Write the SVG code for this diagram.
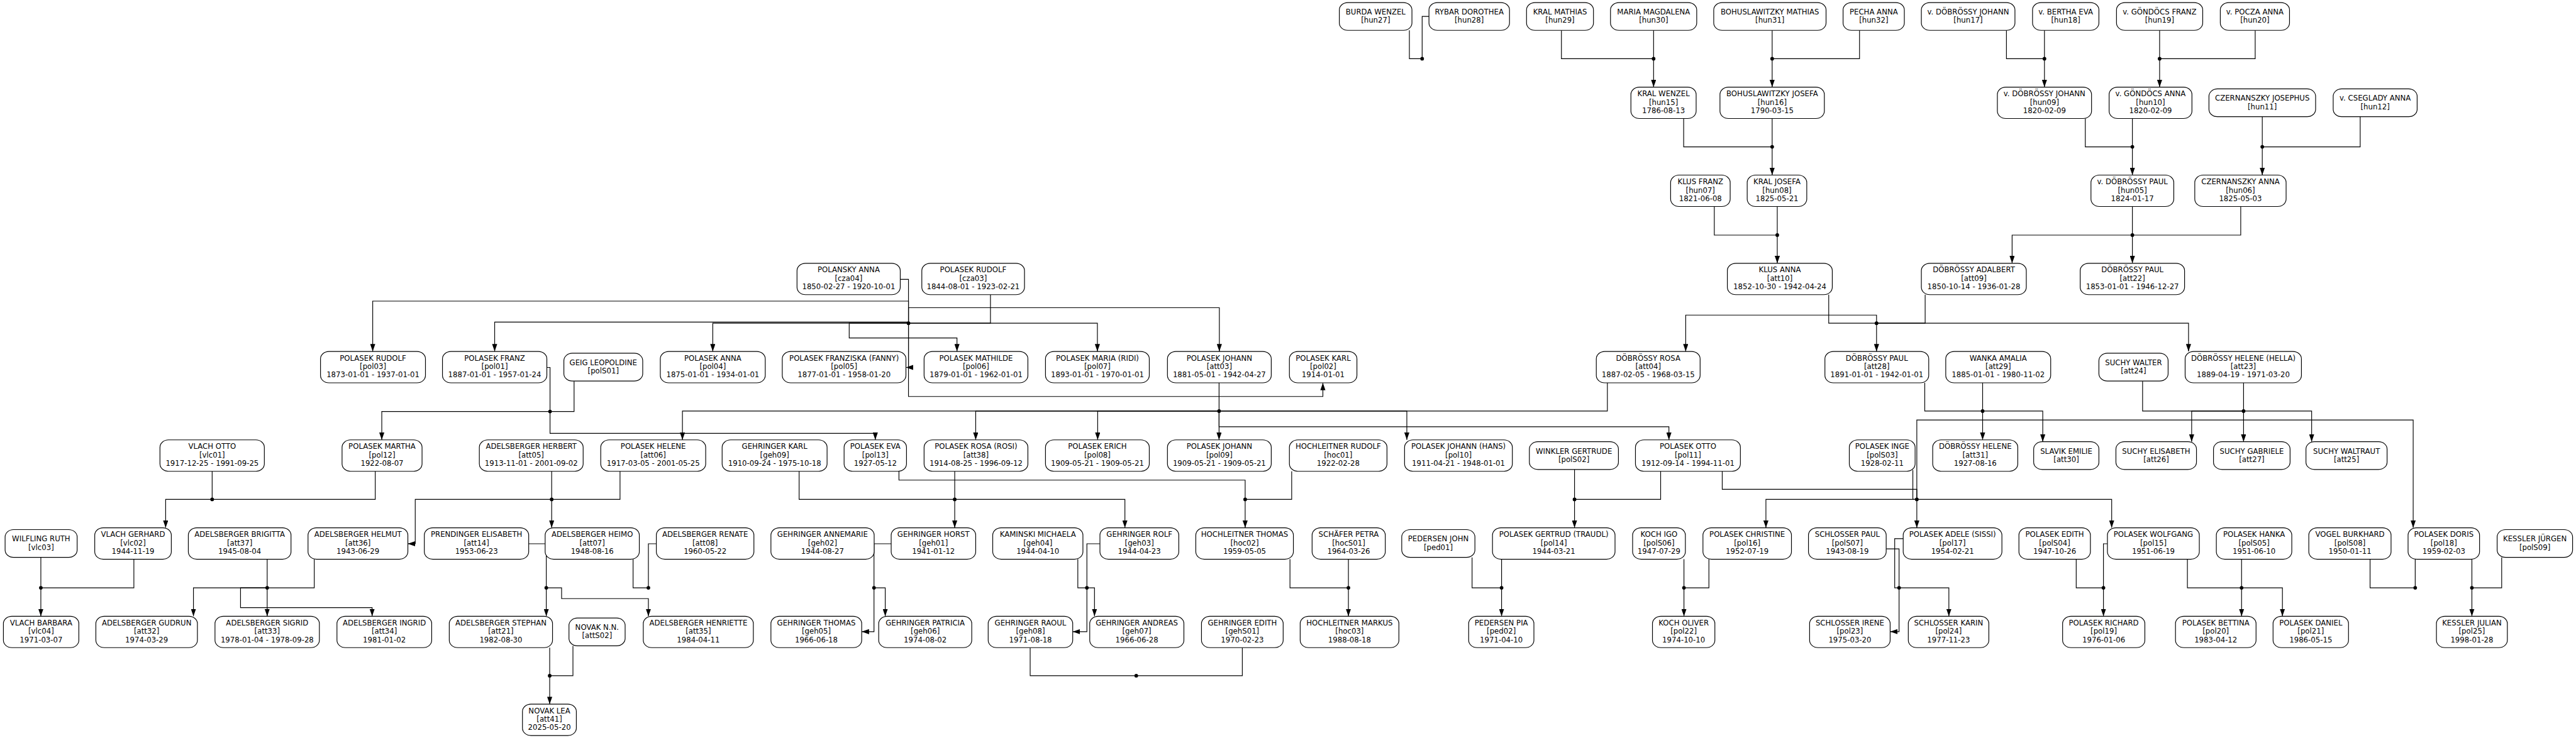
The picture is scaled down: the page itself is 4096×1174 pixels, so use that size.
<svg xmlns="http://www.w3.org/2000/svg" width="4096" height="1174" viewBox="0 0 4096 1174">
<defs>
<style>
.n rect{fill:#fff;stroke:#000;stroke-width:1.3}
.n text{font-family:"DejaVu Sans",sans-serif;font-size:13px;text-anchor:middle;fill:#000}
.c path{fill:none;stroke:#000;stroke-width:1.3}
.a path{fill:none;stroke:#000;stroke-width:1.3;marker-end:url(#ah)}
.d circle{fill:#000}
</style>
<marker id="ah" markerWidth="13" markerHeight="9" refX="13" refY="4.5" orient="auto" markerUnits="userSpaceOnUse"><path d="M0,0 L13,4.5 L0,9 z" fill="#000"/></marker>
</defs>
<rect width="4096" height="1174" fill="#fff"/>
<g transform="scale(0.902)">
<g id="connectors">
<g class="c">
<path d="M2484.5,53.5V103.6H2507M2519,29H2507V103.6"/>
<path d="M2752.5,53.5V103.6H2915M2915,53.5V103.6"/>
<path d="M3124,53.5V103.6M3278,53.5V103.6H3124"/>
<path d="M2968,209V259H3124M3124,209V259"/>
<path d="M3022,364.2V414.6H3133M3133,364.2V414.6"/>
<path d="M3537,53.5V103.6H3604M3604,53.5V103.6"/>
<path d="M3807,53.5V103.6M3975.5,53.5V103.6H3807"/>
<path d="M3676,209V259H3759M3759,209V259"/>
<path d="M3988,205.8V259M4160.6,205.8V259H3988"/>
<path d="M3759,364.2V414.6M3950,364.2V414.6H3759"/>
<path d="M3223.7,519.7V570H3308M3393.7,519.7V570H3308"/>
<path d="M1587,492.7H1601.5V570M1746,519.7V570H1601.5"/>
<path d="M964,648H969.6V725.7M1012,672V725.7H969.6"/>
<path d="M2149,675.2V725M2833.5,675.2V725H2149"/>
<path d="M3393,675.2V725H3495M3495,675.2V725"/>
<path d="M3777,672V725H3955M3955,675.2V725"/>
<path d="M374,831.2V880.7M661.5,831.2V880.7H374"/>
<path d="M972.5,831.2V880.7M1093,831.2V880.7H972.5"/>
<path d="M1408.7,831.2V880.7H1683M1683,831.2V880.7"/>
<path d="M1584.7,831.2V846.7H2195V880.7M2277,831.2V880.7H2195"/>
<path d="M2775.6,828V880.7M2927.4,831.2V880.7H2775.6"/>
<path d="M3036,831.2V863H3379V880.7M3372,829V880.7H3379"/>
<path d="M72,983V1036.7M236,986.2V1036.7H72"/>
<path d="M471,986.2V1036.7M554,986.2V1036.7H471"/>
<path d="M932,959H963V1036.7"/>
<path d="M1116,986.2V1036.7H1143M1157,959H1143V1036.7"/>
<path d="M1571,959H1540.7V1036.7"/>
<path d="M1939,959H1916V1036.7M1900,986.2V1036.7H1916"/>
<path d="M1816,1142.2V1191.7H2003M2190,1142.2V1191.7H2003"/>
<path d="M2274,986.2V1036.7H2377M2377,986.2V1036.7"/>
<path d="M2595,983V1036.7H2647M2647,986.2V1036.7"/>
<path d="M2968.5,986.2V1036.7M3012.5,986.2V1036.7H2968.5"/>
<path d="M3325,968H3347.7V1036.7M3355,950H3340V1036.7H3347.7"/>
<path d="M3715,959H3708V1036.7M3660,986.2V1036.7H3708"/>
<path d="M3856,986.2V1036.7H3951.5M3951.5,986.2V1036.7"/>
<path d="M4178,986.2V1036.7H4257.6M4257.6,986.2V1036.7"/>
<path d="M4357.5,986.2V1036.7M4410,983V1036.7H4357.5"/>
<path d="M969,1142.2V1191.7M1010,1139V1191.7H969"/>
</g>
<g class="a">
<path d="M2915,103.6V153.6"/>
<path d="M3124,103.6V153.6"/>
<path d="M3124,259V308.8"/>
<path d="M3133,414.6V464.3"/>
<path d="M3604,103.6V153.6"/>
<path d="M3807,103.6V153.6"/>
<path d="M3759,259V308.8"/>
<path d="M3988,259V308.8"/>
<path d="M3759,414.6V464.3"/>
<path d="M3759,414.6H3547V464.3"/>
<path d="M3308,570V619.8"/>
<path d="M3308,570V555.7H2971.6V619.8"/>
<path d="M3308,570H3858V619.8"/>
<path d="M1601.5,570V531H657V619.8"/>
<path d="M1601.5,570V542.7H2149.5V619.8"/>
<path d="M1601.5,568H872V619.8"/>
<path d="M1601.5,570H1256.5V619.8"/>
<path d="M1601.5,570H1934.5V619.8"/>
<path d="M1601.5,570H1497V596H1687V619.8"/>
<path d="M1601.5,570V648H1597"/>
<path d="M1601.5,570V699.3H2332V675.2"/>
<path d="M969.6,725.7H673V775.8"/>
<path d="M969.6,725.7V764.3H1543V775.8"/>
<path d="M2149,725V775.8"/>
<path d="M2149,725H1203V775.8"/>
<path d="M2149,725H1720V775.8"/>
<path d="M2149,725H1935V775.8"/>
<path d="M2149,725H2480V775.8"/>
<path d="M2149,725V752.7H2942V775.8"/>
<path d="M3495,725V775.8"/>
<path d="M3495,725H3601V779"/>
<path d="M3955,725V779"/>
<path d="M3955,725H3863.5V779"/>
<path d="M3955,725H4075V779"/>
<path d="M374,880.7H292V930.8"/>
<path d="M972.5,880.7V930.8"/>
<path d="M972.5,880.7H732V959H719"/>
<path d="M1683,880.7V930.8"/>
<path d="M1683,880.7H1983V930.8"/>
<path d="M2195,880.7V930.8"/>
<path d="M2775.6,880.7V930.8"/>
<path d="M3379,880.7H3113V930.8"/>
<path d="M3379,880.7V930.8"/>
<path d="M3379,880.7H3722.5V930.8"/>
<path d="M3379,880.7V740.7H4254V930.8"/>
<path d="M72,1036.7V1086.8"/>
<path d="M471,1036.7V1086.8"/>
<path d="M471,1036.7H341V1086.8"/>
<path d="M471,1036.7H424V1071.7H656V1086.8"/>
<path d="M963,1036.7V1086.8"/>
<path d="M963,1036.7H990V1055.7H1143V1086.8"/>
<path d="M1540.7,1036.7V1114H1519"/>
<path d="M1540.7,1036.7H1560.5V1086.8"/>
<path d="M1916,1036.7V1114H1891"/>
<path d="M1916,1036.7H1929.4V1086.8"/>
<path d="M2377,1036.7V1086.8"/>
<path d="M2647,1036.7V1086.8"/>
<path d="M2968.5,1036.7V1086.8"/>
<path d="M3347.7,1036.7V1114H3332"/>
<path d="M3347.7,1036.7H3435.5V1086.8"/>
<path d="M3708,1036.7V1086.8"/>
<path d="M3951.5,1036.7V1086.8"/>
<path d="M3951.5,1036.7H4023.5V1086.8"/>
<path d="M4357.5,1036.7V1086.8"/>
<path d="M969,1191.7V1241.8"/>
</g>
<g class="d">
<circle cx="2507" cy="103.6" r="3.2"/><circle cx="2915" cy="103.6" r="3.2"/><circle cx="3124" cy="103.6" r="3.2"/>
<circle cx="3124" cy="259" r="3.2"/><circle cx="3133" cy="414.6" r="3.2"/><circle cx="3604" cy="103.6" r="3.2"/>
<circle cx="3807" cy="103.6" r="3.2"/><circle cx="3759" cy="259" r="3.2"/><circle cx="3988" cy="259" r="3.2"/>
<circle cx="3759" cy="414.6" r="3.2"/><circle cx="3308" cy="570" r="3.2"/><circle cx="1601.5" cy="570" r="3.2"/>
<circle cx="969.6" cy="725.7" r="3.2"/><circle cx="2149" cy="725" r="3.2"/><circle cx="3495" cy="725" r="3.2"/>
<circle cx="3955" cy="725" r="3.2"/><circle cx="374" cy="880.7" r="3.2"/><circle cx="972.5" cy="880.7" r="3.2"/>
<circle cx="1683" cy="880.7" r="3.2"/><circle cx="2195" cy="880.7" r="3.2"/><circle cx="2775.6" cy="880.7" r="3.2"/>
<circle cx="3379" cy="880.7" r="3.2"/><circle cx="72" cy="1036.7" r="3.2"/><circle cx="471" cy="1036.7" r="3.2"/>
<circle cx="963" cy="1036.7" r="3.2"/><circle cx="1143" cy="1036.7" r="3.2"/><circle cx="1540.7" cy="1036.7" r="3.2"/>
<circle cx="1916" cy="1036.7" r="3.2"/><circle cx="2003" cy="1191.7" r="3.2"/><circle cx="2377" cy="1036.7" r="3.2"/>
<circle cx="2647" cy="1036.7" r="3.2"/><circle cx="2968.5" cy="1036.7" r="3.2"/><circle cx="3347.7" cy="1036.7" r="3.2"/>
<circle cx="3708" cy="1036.7" r="3.2"/><circle cx="3951.5" cy="1036.7" r="3.2"/><circle cx="4257.6" cy="1036.7" r="3.2"/>
<circle cx="4357.5" cy="1036.7" r="3.2"/><circle cx="969" cy="1191.7" r="3.2"/>
</g>
</g>
<g id="nodes">
<!-- row 1 -->
<g id="hun27" class="n" transform="translate(2425,29)"><rect x="-64" y="-24.5" width="128" height="49" rx="15" ry="13"/><text y="-3.6">BURDA WENZEL</text><text y="11.2">[hun27]</text></g>
<g id="hun28" class="n" transform="translate(2590,29)"><rect x="-71" y="-24.5" width="142" height="49" rx="15" ry="13"/><text y="-3.6">RYBAR DOROTHEA</text><text y="11.2">[hun28]</text></g>
<g id="hun29" class="n" transform="translate(2750,29)"><rect x="-59" y="-24.5" width="118" height="49" rx="15" ry="13"/><text y="-3.6">KRAL MATHIAS</text><text y="11.2">[hun29]</text></g>
<g id="hun30" class="n" transform="translate(2915,29)"><rect x="-76" y="-24.5" width="152" height="49" rx="15" ry="13"/><text y="-3.6">MARIA MAGDALENA</text><text y="11.2">[hun30]</text></g>
<g id="hun31" class="n" transform="translate(3120,29)"><rect x="-99" y="-24.5" width="198" height="49" rx="15" ry="13"/><text y="-3.6">BOHUSLAWITZKY MATHIAS</text><text y="11.2">[hun31]</text></g>
<g id="hun32" class="n" transform="translate(3303,29)"><rect x="-54" y="-24.5" width="108" height="49" rx="15" ry="13"/><text y="-3.6">PECHA ANNA</text><text y="11.2">[hun32]</text></g>
<g id="hun17" class="n" transform="translate(3469.5,29)"><rect x="-82.5" y="-24.5" width="165" height="49" rx="15" ry="13"/><text y="-3.6">v. DÖBRÖSSY JOHANN</text><text y="11.2">[hun17]</text></g>
<g id="hun18" class="n" transform="translate(3641.5,29)"><rect x="-58.5" y="-24.5" width="117" height="49" rx="15" ry="13"/><text y="-3.6">v. BERTHA EVA</text><text y="11.2">[hun18]</text></g>
<g id="hun19" class="n" transform="translate(3807,29)"><rect x="-76" y="-24.5" width="152" height="49" rx="15" ry="13"/><text y="-3.6">v. GÖNDÖCS FRANZ</text><text y="11.2">[hun19]</text></g>
<g id="hun20" class="n" transform="translate(3975,29)"><rect x="-61" y="-24.5" width="122" height="49" rx="15" ry="13"/><text y="-3.6">v. POCZA ANNA</text><text y="11.2">[hun20]</text></g>
<!-- row 2 -->
<g id="hun15" class="n" transform="translate(2932.5,181.3)"><rect x="-57.5" y="-27.7" width="115" height="55.4" rx="15" ry="13"/><text y="-11.5">KRAL WENZEL</text><text y="3.3">[hun15]</text><text y="18.1">1786-08-13</text></g>
<g id="hun16" class="n" transform="translate(3124,181.3)"><rect x="-92" y="-27.7" width="184" height="55.4" rx="15" ry="13"/><text y="-11.5">BOHUSLAWITZKY JOSEFA</text><text y="3.3">[hun16]</text><text y="18.1">1790-03-15</text></g>
<g id="hun09" class="n" transform="translate(3604,181.3)"><rect x="-83" y="-27.7" width="166" height="55.4" rx="15" ry="13"/><text y="-11.5">v. DÖBRÖSSY JOHANN</text><text y="3.3">[hun09]</text><text y="18.1">1820-02-09</text></g>
<g id="hun10" class="n" transform="translate(3791,181.3)"><rect x="-73" y="-27.7" width="146" height="55.4" rx="15" ry="13"/><text y="-11.5">v. GÖNDÖCS ANNA</text><text y="3.3">[hun10]</text><text y="18.1">1820-02-09</text></g>
<g id="hun11" class="n" transform="translate(3988,181.3)"><rect x="-94" y="-24.5" width="188" height="49" rx="15" ry="13"/><text y="-3.6">CZERNANSZKY JOSEPHUS</text><text y="11.2">[hun11]</text></g>
<g id="hun12" class="n" transform="translate(4187,181.3)"><rect x="-74" y="-24.5" width="148" height="49" rx="15" ry="13"/><text y="-3.6">v. CSEGLADY ANNA</text><text y="11.2">[hun12]</text></g>
<!-- row 3 -->
<g id="hun07" class="n" transform="translate(2997.5,336.5)"><rect x="-52.5" y="-27.7" width="105" height="55.4" rx="15" ry="13"/><text y="-11.5">KLUS FRANZ</text><text y="3.3">[hun07]</text><text y="18.1">1821-06-08</text></g>
<g id="hun08" class="n" transform="translate(3132.5,336.5)"><rect x="-52.5" y="-27.7" width="105" height="55.4" rx="15" ry="13"/><text y="-11.5">KRAL JOSEFA</text><text y="3.3">[hun08]</text><text y="18.1">1825-05-21</text></g>
<g id="hun05" class="n" transform="translate(3759,336.5)"><rect x="-73" y="-27.7" width="146" height="55.4" rx="15" ry="13"/><text y="-11.5">v. DÖBRÖSSY PAUL</text><text y="3.3">[hun05]</text><text y="18.1">1824-01-17</text></g>
<g id="hun06" class="n" transform="translate(3949.5,336.5)"><rect x="-80.5" y="-27.7" width="161" height="55.4" rx="15" ry="13"/><text y="-11.5">CZERNANSZKY ANNA</text><text y="3.3">[hun06]</text><text y="18.1">1825-05-03</text></g>
<!-- row 4 -->
<g id="cza04" class="n" transform="translate(1496,492)"><rect x="-91" y="-27.7" width="182" height="55.4" rx="15" ry="13"/><text y="-11.5">POLANSKY ANNA</text><text y="3.3">[cza04]</text><text y="18.1">1850-02-27 - 1920-10-01</text></g>
<g id="cza03" class="n" transform="translate(1715.5,492)"><rect x="-90.5" y="-27.7" width="181" height="55.4" rx="15" ry="13"/><text y="-11.5">POLASEK RUDOLF</text><text y="3.3">[cza03]</text><text y="18.1">1844-08-01 - 1923-02-21</text></g>
<g id="att10" class="n" transform="translate(3137.5,492)"><rect x="-92.5" y="-27.7" width="185" height="55.4" rx="15" ry="13"/><text y="-11.5">KLUS ANNA</text><text y="3.3">[att10]</text><text y="18.1">1852-10-30 - 1942-04-24</text></g>
<g id="att09" class="n" transform="translate(3479.5,492)"><rect x="-92.5" y="-27.7" width="185" height="55.4" rx="15" ry="13"/><text y="-11.5">DÖBRÖSSY ADALBERT</text><text y="3.3">[att09]</text><text y="18.1">1850-10-14 - 1936-01-28</text></g>
<g id="att22" class="n" transform="translate(3759,492)"><rect x="-92" y="-27.7" width="184" height="55.4" rx="15" ry="13"/><text y="-11.5">DÖBRÖSSY PAUL</text><text y="3.3">[att22]</text><text y="18.1">1853-01-01 - 1946-12-27</text></g>
<!-- row 5 -->
<g id="pol03" class="n" transform="translate(657.5,647.5)"><rect x="-92.5" y="-27.7" width="185" height="55.4" rx="15" ry="13"/><text y="-11.5">POLASEK RUDOLF</text><text y="3.3">[pol03]</text><text y="18.1">1873-01-01 - 1937-01-01</text></g>
<g id="pol01" class="n" transform="translate(872,647.5)"><rect x="-92" y="-27.7" width="184" height="55.4" rx="15" ry="13"/><text y="-11.5">POLASEK FRANZ</text><text y="3.3">[pol01]</text><text y="18.1">1887-01-01 - 1957-01-24</text></g>
<g id="polS01" class="n" transform="translate(1063.5,647.5)"><rect x="-69.5" y="-24.5" width="139" height="49" rx="15" ry="13"/><text y="-3.6">GEIG LEOPOLDINE</text><text y="11.2">[polS01]</text></g>
<g id="pol04" class="n" transform="translate(1256.5,647.5)"><rect x="-92.5" y="-27.7" width="185" height="55.4" rx="15" ry="13"/><text y="-11.5">POLASEK ANNA</text><text y="3.3">[pol04]</text><text y="18.1">1875-01-01 - 1934-01-01</text></g>
<g id="pol05" class="n" transform="translate(1488,647.5)"><rect x="-109" y="-27.7" width="218" height="55.4" rx="15" ry="13"/><text y="-11.5">POLASEK FRANZISKA (FANNY)</text><text y="3.3">[pol05]</text><text y="18.1">1877-01-01 - 1958-01-20</text></g>
<g id="pol06" class="n" transform="translate(1720.5,647.5)"><rect x="-91.5" y="-27.7" width="183" height="55.4" rx="15" ry="13"/><text y="-11.5">POLASEK MATHILDE</text><text y="3.3">[pol06]</text><text y="18.1">1879-01-01 - 1962-01-01</text></g>
<g id="pol07" class="n" transform="translate(1934.5,647.5)"><rect x="-91.5" y="-27.7" width="183" height="55.4" rx="15" ry="13"/><text y="-11.5">POLASEK MARIA (RIDI)</text><text y="3.3">[pol07]</text><text y="18.1">1893-01-01 - 1970-01-01</text></g>
<g id="att03" class="n" transform="translate(2149.5,647.5)"><rect x="-91.5" y="-27.7" width="183" height="55.4" rx="15" ry="13"/><text y="-11.5">POLASEK JOHANN</text><text y="3.3">[att03]</text><text y="18.1">1881-05-01 - 1942-04-27</text></g>
<g id="pol02" class="n" transform="translate(2332.5,647.5)"><rect x="-59.5" y="-27.7" width="119" height="55.4" rx="15" ry="13"/><text y="-11.5">POLASEK KARL</text><text y="3.3">[pol02]</text><text y="18.1">1914-01-01</text></g>
<g id="att04" class="n" transform="translate(2905.5,647.5)"><rect x="-91.5" y="-27.7" width="183" height="55.4" rx="15" ry="13"/><text y="-11.5">DÖBRÖSSY ROSA</text><text y="3.3">[att04]</text><text y="18.1">1887-02-05 - 1968-03-15</text></g>
<g id="att28" class="n" transform="translate(3308.5,647.5)"><rect x="-91.5" y="-27.7" width="183" height="55.4" rx="15" ry="13"/><text y="-11.5">DÖBRÖSSY PAUL</text><text y="3.3">[att28]</text><text y="18.1">1891-01-01 - 1942-01-01</text></g>
<g id="att29" class="n" transform="translate(3522.5,647.5)"><rect x="-92.5" y="-27.7" width="185" height="55.4" rx="15" ry="13"/><text y="-11.5">WANKA AMALIA</text><text y="3.3">[att29]</text><text y="18.1">1885-01-01 - 1980-11-02</text></g>
<g id="att24" class="n" transform="translate(3761,647.5)"><rect x="-61" y="-24.5" width="122" height="49" rx="15" ry="13"/><text y="-3.6">SUCHY WALTER</text><text y="11.2">[att24]</text></g>
<g id="att23" class="n" transform="translate(3954.5,647.5)"><rect x="-102.5" y="-27.7" width="205" height="55.4" rx="15" ry="13"/><text y="-11.5">DÖBRÖSSY HELENE (HELLA)</text><text y="3.3">[att23]</text><text y="18.1">1889-04-19 - 1971-03-20</text></g>
<!-- row 6 -->
<g id="vlc01" class="n" transform="translate(374,803.5)"><rect x="-92" y="-27.7" width="184" height="55.4" rx="15" ry="13"/><text y="-11.5">VLACH OTTO</text><text y="3.3">[vlc01]</text><text y="18.1">1917-12-25 - 1991-09-25</text></g>
<g id="pol12" class="n" transform="translate(673.5,803.5)"><rect x="-70.5" y="-27.7" width="141" height="55.4" rx="15" ry="13"/><text y="-11.5">POLASEK MARTHA</text><text y="3.3">[pol12]</text><text y="18.1">1922-08-07</text></g>
<g id="att05" class="n" transform="translate(936.5,803.5)"><rect x="-91.5" y="-27.7" width="183" height="55.4" rx="15" ry="13"/><text y="-11.5">ADELSBERGER HERBERT</text><text y="3.3">[att05]</text><text y="18.1">1913-11-01 - 2001-09-02</text></g>
<g id="att06" class="n" transform="translate(1151.5,803.5)"><rect x="-92.5" y="-27.7" width="185" height="55.4" rx="15" ry="13"/><text y="-11.5">POLASEK HELENE</text><text y="3.3">[att06]</text><text y="18.1">1917-03-05 - 2001-05-25</text></g>
<g id="geh09" class="n" transform="translate(1365.5,803.5)"><rect x="-92.5" y="-27.7" width="185" height="55.4" rx="15" ry="13"/><text y="-11.5">GEHRINGER KARL</text><text y="3.3">[geh09]</text><text y="18.1">1910-09-24 - 1975-10-18</text></g>
<g id="pol13" class="n" transform="translate(1543,803.5)"><rect x="-55" y="-27.7" width="110" height="55.4" rx="15" ry="13"/><text y="-11.5">POLASEK EVA</text><text y="3.3">[pol13]</text><text y="18.1">1927-05-12</text></g>
<g id="att38" class="n" transform="translate(1720.5,803.5)"><rect x="-91.5" y="-27.7" width="183" height="55.4" rx="15" ry="13"/><text y="-11.5">POLASEK ROSA (ROSI)</text><text y="3.3">[att38]</text><text y="18.1">1914-08-25 - 1996-09-12</text></g>
<g id="pol08" class="n" transform="translate(1934.5,803.5)"><rect x="-91.5" y="-27.7" width="183" height="55.4" rx="15" ry="13"/><text y="-11.5">POLASEK ERICH</text><text y="3.3">[pol08]</text><text y="18.1">1909-05-21 - 1909-05-21</text></g>
<g id="pol09" class="n" transform="translate(2149.5,803.5)"><rect x="-91.5" y="-27.7" width="183" height="55.4" rx="15" ry="13"/><text y="-11.5">POLASEK JOHANN</text><text y="3.3">[pol09]</text><text y="18.1">1909-05-21 - 1909-05-21</text></g>
<g id="hoc01" class="n" transform="translate(2359,803.5)"><rect x="-86" y="-27.7" width="172" height="55.4" rx="15" ry="13"/><text y="-11.5">HOCHLEITNER RUDOLF</text><text y="3.3">[hoc01]</text><text y="18.1">1922-02-28</text></g>
<g id="pol10" class="n" transform="translate(2571,803.5)"><rect x="-95" y="-27.7" width="190" height="55.4" rx="15" ry="13"/><text y="-11.5">POLASEK JOHANN (HANS)</text><text y="3.3">[pol10]</text><text y="18.1">1911-04-21 - 1948-01-01</text></g>
<g id="polS02" class="n" transform="translate(2774.5,803.5)"><rect x="-78.5" y="-24.5" width="157" height="49" rx="15" ry="13"/><text y="-3.6">WINKLER GERTRUDE</text><text y="11.2">[polS02]</text></g>
<g id="pol11" class="n" transform="translate(2975.5,803.5)"><rect x="-92.5" y="-27.7" width="185" height="55.4" rx="15" ry="13"/><text y="-11.5">POLASEK OTTO</text><text y="3.3">[pol11]</text><text y="18.1">1912-09-14 - 1994-11-01</text></g>
<g id="polS03" class="n" transform="translate(3318,803.5)"><rect x="-58" y="-27.7" width="116" height="55.4" rx="15" ry="13"/><text y="-11.5">POLASEK INGE</text><text y="3.3">[polS03]</text><text y="18.1">1928-02-11</text></g>
<g id="att31" class="n" transform="translate(3482,803.5)"><rect x="-75" y="-27.7" width="150" height="55.4" rx="15" ry="13"/><text y="-11.5">DÖBRÖSSY HELENE</text><text y="3.3">[att31]</text><text y="18.1">1927-08-16</text></g>
<g id="att30" class="n" transform="translate(3642.5,803.5)"><rect x="-57.5" y="-24.5" width="115" height="49" rx="15" ry="13"/><text y="-3.6">SLAVIK EMILIE</text><text y="11.2">[att30]</text></g>
<g id="att26" class="n" transform="translate(3801,803.5)"><rect x="-71" y="-24.5" width="142" height="49" rx="15" ry="13"/><text y="-3.6">SUCHY ELISABETH</text><text y="11.2">[att26]</text></g>
<g id="att27" class="n" transform="translate(3969.5,803.5)"><rect x="-67.5" y="-24.5" width="135" height="49" rx="15" ry="13"/><text y="-3.6">SUCHY GABRIELE</text><text y="11.2">[att27]</text></g>
<g id="att25" class="n" transform="translate(4136.5,803.5)"><rect x="-71.5" y="-24.5" width="143" height="49" rx="15" ry="13"/><text y="-3.6">SUCHY WALTRAUT</text><text y="11.2">[att25]</text></g>
<!-- row 7 -->
<g id="vlc03" class="n" transform="translate(72.5,958.5)"><rect x="-63.5" y="-24.5" width="127" height="49" rx="15" ry="13"/><text y="-3.6">WILFLING RUTH</text><text y="11.2">[vlc03]</text></g>
<g id="vlc02" class="n" transform="translate(234.5,958.5)"><rect x="-67.5" y="-27.7" width="135" height="55.4" rx="15" ry="13"/><text y="-11.5">VLACH GERHARD</text><text y="3.3">[vlc02]</text><text y="18.1">1944-11-19</text></g>
<g id="att37" class="n" transform="translate(422.5,958.5)"><rect x="-90.5" y="-27.7" width="181" height="55.4" rx="15" ry="13"/><text y="-11.5">ADELSBERGER BRIGITTA</text><text y="3.3">[att37]</text><text y="18.1">1945-08-04</text></g>
<g id="att36" class="n" transform="translate(631,958.5)"><rect x="-88" y="-27.7" width="176" height="55.4" rx="15" ry="13"/><text y="-11.5">ADELSBERGER HELMUT</text><text y="3.3">[att36]</text><text y="18.1">1943-06-29</text></g>
<g id="att14" class="n" transform="translate(840,958.5)"><rect x="-92" y="-27.7" width="184" height="55.4" rx="15" ry="13"/><text y="-11.5">PRENDINGER ELISABETH</text><text y="3.3">[att14]</text><text y="18.1">1953-06-23</text></g>
<g id="att07" class="n" transform="translate(1044,958.5)"><rect x="-83" y="-27.7" width="166" height="55.4" rx="15" ry="13"/><text y="-11.5">ADELSBERGER HEIMO</text><text y="3.3">[att07]</text><text y="18.1">1948-08-16</text></g>
<g id="att08" class="n" transform="translate(1243,958.5)"><rect x="-86" y="-27.7" width="172" height="55.4" rx="15" ry="13"/><text y="-11.5">ADELSBERGER RENATE</text><text y="3.3">[att08]</text><text y="18.1">1960-05-22</text></g>
<g id="geh02" class="n" transform="translate(1450,958.5)"><rect x="-91" y="-27.7" width="182" height="55.4" rx="15" ry="13"/><text y="-11.5">GEHRINGER ANNEMARIE</text><text y="3.3">[geh02]</text><text y="18.1">1944-08-27</text></g>
<g id="geh01" class="n" transform="translate(1645.5,958.5)"><rect x="-74.5" y="-27.7" width="149" height="55.4" rx="15" ry="13"/><text y="-11.5">GEHRINGER HORST</text><text y="3.3">[geh01]</text><text y="18.1">1941-01-12</text></g>
<g id="geh04" class="n" transform="translate(1829.5,958.5)"><rect x="-79.5" y="-27.7" width="159" height="55.4" rx="15" ry="13"/><text y="-11.5">KAMINSKI MICHAELA</text><text y="3.3">[geh04]</text><text y="18.1">1944-04-10</text></g>
<g id="geh03" class="n" transform="translate(2008.5,958.5)"><rect x="-69.5" y="-27.7" width="139" height="55.4" rx="15" ry="13"/><text y="-11.5">GEHRINGER ROLF</text><text y="3.3">[geh03]</text><text y="18.1">1944-04-23</text></g>
<g id="hoc02" class="n" transform="translate(2194,958.5)"><rect x="-86" y="-27.7" width="172" height="55.4" rx="15" ry="13"/><text y="-11.5">HOCHLEITNER THOMAS</text><text y="3.3">[hoc02]</text><text y="18.1">1959-05-05</text></g>
<g id="hocS01" class="n" transform="translate(2377.5,958.5)"><rect x="-64.5" y="-27.7" width="129" height="55.4" rx="15" ry="13"/><text y="-11.5">SCHÄFER PETRA</text><text y="3.3">[hocS01]</text><text y="18.1">1964-03-26</text></g>
<g id="ped01" class="n" transform="translate(2535.5,958.5)"><rect x="-64.5" y="-24.5" width="129" height="49" rx="15" ry="13"/><text y="-3.6">PEDERSEN JOHN</text><text y="11.2">[ped01]</text></g>
<g id="pol14" class="n" transform="translate(2739,958.5)"><rect x="-108" y="-27.7" width="216" height="55.4" rx="15" ry="13"/><text y="-11.5">POLASEK GERTRUD (TRAUDL)</text><text y="3.3">[pol14]</text><text y="18.1">1944-03-21</text></g>
<g id="polS06" class="n" transform="translate(2924.5,958.5)"><rect x="-46.5" y="-27.7" width="93" height="55.4" rx="15" ry="13"/><text y="-11.5">KOCH IGO</text><text y="3.3">[polS06]</text><text y="18.1">1947-07-29</text></g>
<g id="pol16" class="n" transform="translate(3080,958.5)"><rect x="-78" y="-27.7" width="156" height="55.4" rx="15" ry="13"/><text y="-11.5">POLASEK CHRISTINE</text><text y="3.3">[pol16]</text><text y="18.1">1952-07-19</text></g>
<g id="polS07" class="n" transform="translate(3256.5,958.5)"><rect x="-68.5" y="-27.7" width="137" height="55.4" rx="15" ry="13"/><text y="-11.5">SCHLOSSER PAUL</text><text y="3.3">[polS07]</text><text y="18.1">1943-08-19</text></g>
<g id="pol17" class="n" transform="translate(3442,958.5)"><rect x="-87" y="-27.7" width="174" height="55.4" rx="15" ry="13"/><text y="-11.5">POLASEK ADELE (SISSI)</text><text y="3.3">[pol17]</text><text y="18.1">1954-02-21</text></g>
<g id="polS04" class="n" transform="translate(3622,958.5)"><rect x="-63" y="-27.7" width="126" height="55.4" rx="15" ry="13"/><text y="-11.5">POLASEK EDITH</text><text y="3.3">[polS04]</text><text y="18.1">1947-10-26</text></g>
<g id="pol15" class="n" transform="translate(3796,958.5)"><rect x="-81" y="-27.7" width="162" height="55.4" rx="15" ry="13"/><text y="-11.5">POLASEK WOLFGANG</text><text y="3.3">[pol15]</text><text y="18.1">1951-06-19</text></g>
<g id="polS05" class="n" transform="translate(3973.5,958.5)"><rect x="-66.5" y="-27.7" width="133" height="55.4" rx="15" ry="13"/><text y="-11.5">POLASEK HANKA</text><text y="3.3">[polS05]</text><text y="18.1">1951-06-10</text></g>
<g id="polS08" class="n" transform="translate(4142.5,958.5)"><rect x="-72.5" y="-27.7" width="145" height="55.4" rx="15" ry="13"/><text y="-11.5">VOGEL BURKHARD</text><text y="3.3">[polS08]</text><text y="18.1">1950-01-11</text></g>
<g id="pol18" class="n" transform="translate(4308,958.5)"><rect x="-63" y="-27.7" width="126" height="55.4" rx="15" ry="13"/><text y="-11.5">POLASEK DORIS</text><text y="3.3">[pol18]</text><text y="18.1">1959-02-03</text></g>
<g id="polS09" class="n" transform="translate(4468.5,958.5)"><rect x="-66.5" y="-24.5" width="133" height="49" rx="15" ry="13"/><text y="-3.6">KESSLER JÜRGEN</text><text y="11.2">[polS09]</text></g>
<!-- row 8 -->
<g id="vlc04" class="n" transform="translate(72.5,1114.5)"><rect x="-66.5" y="-27.7" width="133" height="55.4" rx="15" ry="13"/><text y="-11.5">VLACH BARBARA</text><text y="3.3">[vlc04]</text><text y="18.1">1971-03-07</text></g>
<g id="att32" class="n" transform="translate(258.5,1114.5)"><rect x="-89.5" y="-27.7" width="179" height="55.4" rx="15" ry="13"/><text y="-11.5">ADELSBERGER GUDRUN</text><text y="3.3">[att32]</text><text y="18.1">1974-03-29</text></g>
<g id="att33" class="n" transform="translate(471,1114.5)"><rect x="-92" y="-27.7" width="184" height="55.4" rx="15" ry="13"/><text y="-11.5">ADELSBERGER SIGRID</text><text y="3.3">[att33]</text><text y="18.1">1978-01-04 - 1978-09-28</text></g>
<g id="att34" class="n" transform="translate(677.5,1114.5)"><rect x="-83.5" y="-27.7" width="167" height="55.4" rx="15" ry="13"/><text y="-11.5">ADELSBERGER INGRID</text><text y="3.3">[att34]</text><text y="18.1">1981-01-02</text></g>
<g id="att21" class="n" transform="translate(883,1114.5)"><rect x="-91" y="-27.7" width="182" height="55.4" rx="15" ry="13"/><text y="-11.5">ADELSBERGER STEPHAN</text><text y="3.3">[att21]</text><text y="18.1">1982-08-30</text></g>
<g id="attS02" class="n" transform="translate(1052.5,1114.5)"><rect x="-49.5" y="-24.5" width="99" height="49" rx="15" ry="13"/><text y="-3.6">NOVAK N.N.</text><text y="11.2">[attS02]</text></g>
<g id="att35" class="n" transform="translate(1231,1114.5)"><rect x="-97" y="-27.7" width="194" height="55.4" rx="15" ry="13"/><text y="-11.5">ADELSBERGER HENRIETTE</text><text y="3.3">[att35]</text><text y="18.1">1984-04-11</text></g>
<g id="geh05" class="n" transform="translate(1439,1114.5)"><rect x="-80" y="-27.7" width="160" height="55.4" rx="15" ry="13"/><text y="-11.5">GEHRINGER THOMAS</text><text y="3.3">[geh05]</text><text y="18.1">1966-06-18</text></g>
<g id="geh06" class="n" transform="translate(1631,1114.5)"><rect x="-82" y="-27.7" width="164" height="55.4" rx="15" ry="13"/><text y="-11.5">GEHRINGER PATRICIA</text><text y="3.3">[geh06]</text><text y="18.1">1974-08-02</text></g>
<g id="geh08" class="n" transform="translate(1816.5,1114.5)"><rect x="-74.5" y="-27.7" width="149" height="55.4" rx="15" ry="13"/><text y="-11.5">GEHRINGER RAOUL</text><text y="3.3">[geh08]</text><text y="18.1">1971-08-18</text></g>
<g id="geh07" class="n" transform="translate(2004,1114.5)"><rect x="-83" y="-27.7" width="166" height="55.4" rx="15" ry="13"/><text y="-11.5">GEHRINGER ANDREAS</text><text y="3.3">[geh07]</text><text y="18.1">1966-06-28</text></g>
<g id="gehS01" class="n" transform="translate(2190,1114.5)"><rect x="-72" y="-27.7" width="144" height="55.4" rx="15" ry="13"/><text y="-11.5">GEHRINGER EDITH</text><text y="3.3">[gehS01]</text><text y="18.1">1970-02-23</text></g>
<g id="hoc03" class="n" transform="translate(2379,1114.5)"><rect x="-87" y="-27.7" width="174" height="55.4" rx="15" ry="13"/><text y="-11.5">HOCHLEITNER MARKUS</text><text y="3.3">[hoc03]</text><text y="18.1">1988-08-18</text></g>
<g id="ped02" class="n" transform="translate(2646.5,1114.5)"><rect x="-57.5" y="-27.7" width="115" height="55.4" rx="15" ry="13"/><text y="-11.5">PEDERSEN PIA</text><text y="3.3">[ped02]</text><text y="18.1">1971-04-10</text></g>
<g id="pol22" class="n" transform="translate(2968,1114.5)"><rect x="-55" y="-27.7" width="110" height="55.4" rx="15" ry="13"/><text y="-11.5">KOCH OLIVER</text><text y="3.3">[pol22]</text><text y="18.1">1974-10-10</text></g>
<g id="pol23" class="n" transform="translate(3261,1114.5)"><rect x="-71" y="-27.7" width="142" height="55.4" rx="15" ry="13"/><text y="-11.5">SCHLOSSER IRENE</text><text y="3.3">[pol23]</text><text y="18.1">1975-03-20</text></g>
<g id="pol24" class="n" transform="translate(3435,1114.5)"><rect x="-71" y="-27.7" width="142" height="55.4" rx="15" ry="13"/><text y="-11.5">SCHLOSSER KARIN</text><text y="3.3">[pol24]</text><text y="18.1">1977-11-23</text></g>
<g id="pol19" class="n" transform="translate(3708.5,1114.5)"><rect x="-72.5" y="-27.7" width="145" height="55.4" rx="15" ry="13"/><text y="-11.5">POLASEK RICHARD</text><text y="3.3">[pol19]</text><text y="18.1">1976-01-06</text></g>
<g id="pol20" class="n" transform="translate(3906,1114.5)"><rect x="-71" y="-27.7" width="142" height="55.4" rx="15" ry="13"/><text y="-11.5">POLASEK BETTINA</text><text y="3.3">[pol20]</text><text y="18.1">1983-04-12</text></g>
<g id="pol21" class="n" transform="translate(4073.5,1114.5)"><rect x="-66.5" y="-27.7" width="133" height="55.4" rx="15" ry="13"/><text y="-11.5">POLASEK DANIEL</text><text y="3.3">[pol21]</text><text y="18.1">1986-05-15</text></g>
<g id="pol25" class="n" transform="translate(4357.5,1114.5)"><rect x="-62.5" y="-27.7" width="125" height="55.4" rx="15" ry="13"/><text y="-11.5">KESSLER JULIAN</text><text y="3.3">[pol25]</text><text y="18.1">1998-01-28</text></g>
<!-- row 9 -->
<g id="att41" class="n" transform="translate(968.5,1269.5)"><rect x="-47.5" y="-27.7" width="95" height="55.4" rx="15" ry="13"/><text y="-11.5">NOVAK LEA</text><text y="3.3">[att41]</text><text y="18.1">2025-05-20</text></g>
</g>
</g>
</svg>
